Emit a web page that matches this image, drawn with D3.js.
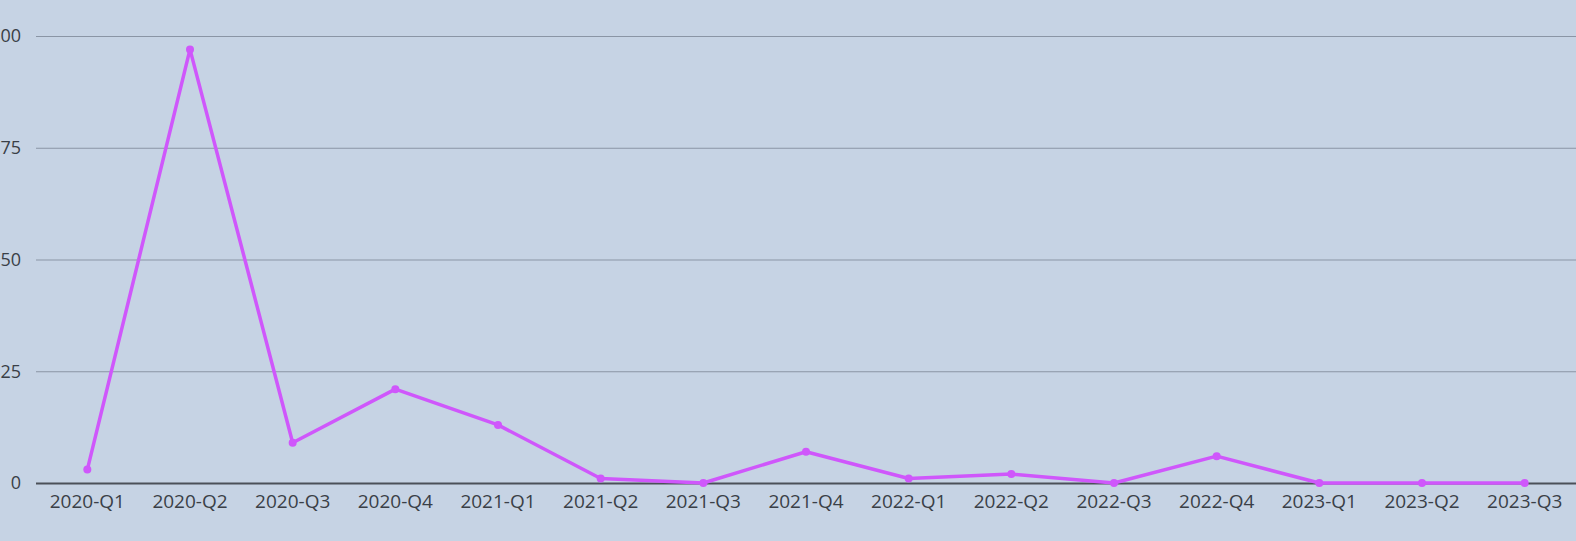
<!DOCTYPE html>
<html><head><meta charset="utf-8">
<script src="https://cdn.jsdelivr.net/npm/d3@7"></script>
<style>
html,body{margin:0;padding:0;background:#c6d3e4;}
svg{display:block;}
</style></head>
<body>
<svg id="chart" width="1576" height="541"></svg>
<script>
const categories = ["2020-Q1","2020-Q2","2020-Q3","2020-Q4","2021-Q1","2021-Q2","2021-Q3","2021-Q4","2022-Q1","2022-Q2","2022-Q3","2022-Q4","2023-Q1","2023-Q2","2023-Q3"];
const values = [3,97,9,21,13,1,0,7,1,2,0,6,0,0,0];
const yTicks = [0,25,50,75,100];

const W = 1576, H = 541;
const margin = {left:36, right:0, top:36, bottom:58};
const svg = d3.select("#chart");
svg.append("rect").attr("width",W).attr("height",H).attr("fill","#c6d3e4");

const x = d3.scaleBand().domain(categories).range([margin.left, W - margin.right]);
const y = d3.scaleLinear().domain([0,100]).range([H - margin.bottom, margin.top]);

const font = "'Open Sans', 'Noto Sans', sans-serif";

// grid
const gy = svg.append("g").attr("transform",`translate(${margin.left},0)`)
  .call(d3.axisLeft(y).tickValues(yTicks).tickSize(-(W - margin.left - margin.right)).tickPadding(15));
gy.select(".domain").remove();
gy.selectAll(".tick line").attr("stroke","#8a95a5").attr("stroke-width",1);
gy.selectAll(".tick").filter(d => d === 0).select("line").attr("stroke","#4b5058").attr("stroke-width",2);
gy.selectAll(".tick text").attr("fill","#3a3f47").attr("font-family",font).attr("font-size","18px");

// x axis labels
const gx = svg.append("g").attr("transform",`translate(0,${H - margin.bottom})`)
  .call(d3.axisBottom(x).tickSize(0).tickPadding(12));
gx.select(".domain").remove();
gx.selectAll(".tick text").attr("fill","#3a3f47").attr("font-family",font).attr("font-size","19px");

const cx = d => x(d) + x.bandwidth()/2;
const line = d3.line().x((d,i) => cx(categories[i])).y(d => y(d));
svg.append("path").datum(values).attr("d",line)
  .attr("fill","none").attr("stroke","#cf57fb").attr("stroke-width",3.5).attr("stroke-linejoin","round");
svg.append("g").selectAll("circle").data(values).join("circle")
  .attr("cx",(d,i) => cx(categories[i])).attr("cy",d => y(d)).attr("r",4).attr("fill","#cf57fb");
</script>
</body></html>
